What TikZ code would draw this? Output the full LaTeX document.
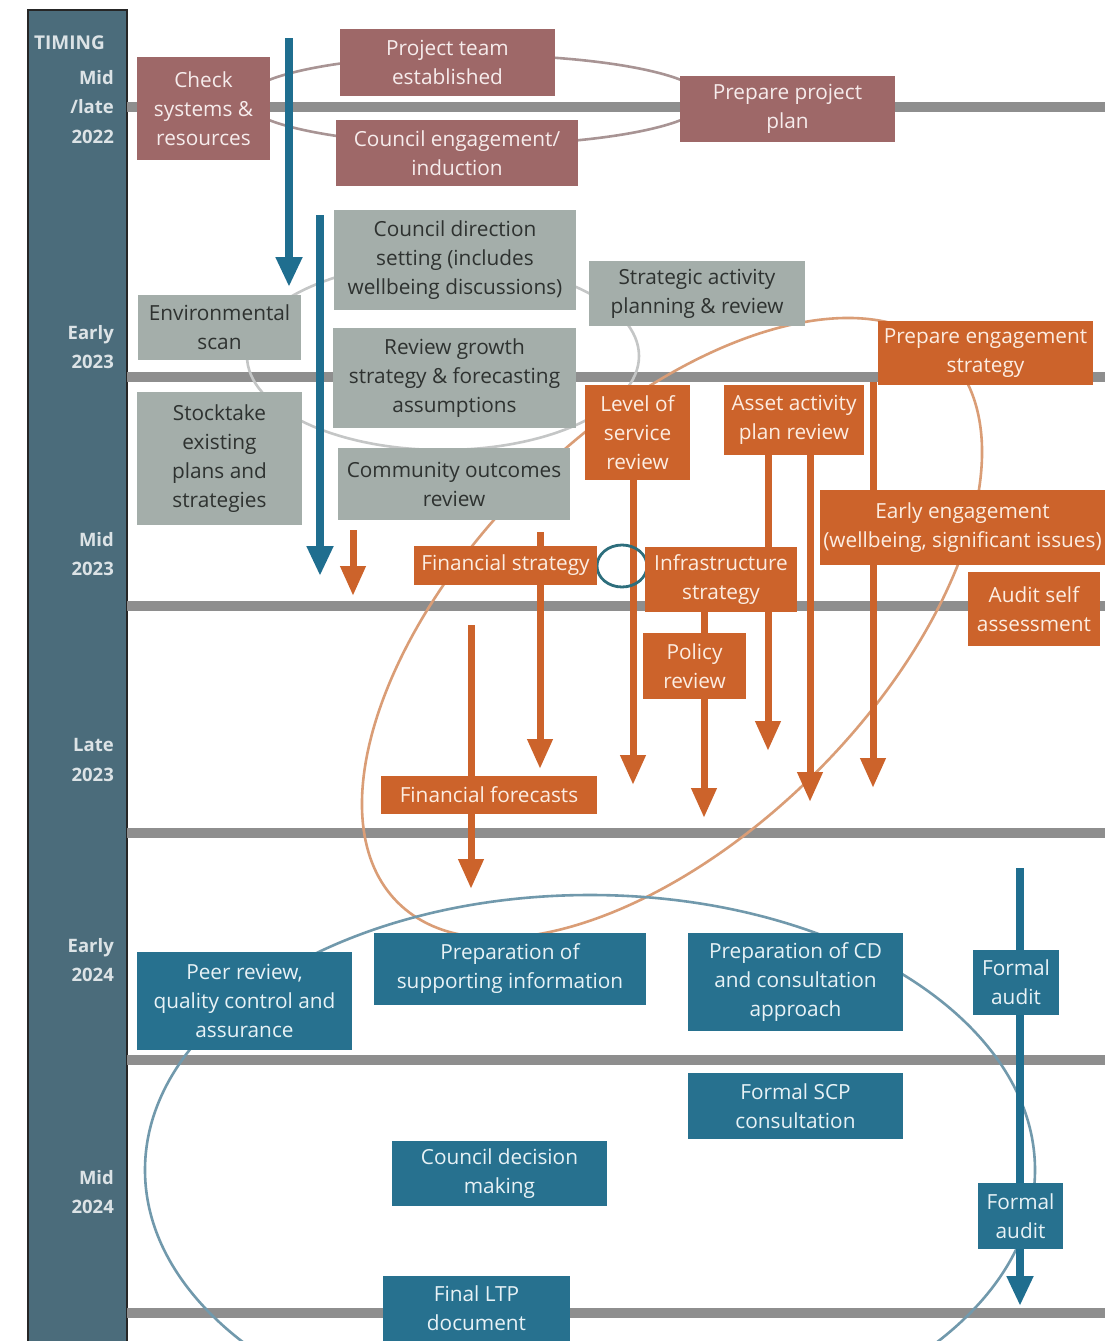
\documentclass[tikz,border=0pt]{standalone}
\usepackage{fontspec}
\setmainfont{Open Sans}
\usetikzlibrary{arrows.meta}
\definecolor{cBar}{HTML}{4B6C7B}
\definecolor{cBarT}{HTML}{DCE3E6}
\definecolor{cLine}{HTML}{8E8E8E}
\definecolor{cMauve}{HTML}{9E6868}
\definecolor{cMauveT}{HTML}{F6ECEC}
\definecolor{cMauveE}{HTML}{A89494}
\definecolor{cGrey}{HTML}{A4AEAA}
\definecolor{cGreyT}{HTML}{2E3230}
\definecolor{cGreyE}{HTML}{C4C6C6}
\definecolor{cOr}{HTML}{CC632B}
\definecolor{cOrT}{HTML}{FCEDE2}
\definecolor{cOrE}{HTML}{DA9D76}
\definecolor{cBl}{HTML}{27718F}
\definecolor{cBlT}{HTML}{E8F2F6}
\definecolor{cBlA}{HTML}{1F6E8F}
\definecolor{cBlE}{HTML}{7199AC}
\definecolor{cTeal}{HTML}{2D6E7C}
\newcommand\bx[7]{\node[#1, minimum width={(#5-#3)*1pt}, minimum height={(#6-#4)*1pt}] (#2) at ({(#3+#5)/2},{(#4+#6)/2}) {#7};}
\begin{document}
\begin{tikzpicture}[x=1pt,y=-1pt,
  boxfont/.style={font=\fontsize{20.8}{29}\selectfont},
  box/.style={rectangle, inner sep=0pt, align=center, boxfont},
  mauvebox/.style={box, fill=cMauve, text=cMauveT},
  greybox/.style={box, fill=cGrey, text=cGreyT},
  orbox/.style={box, fill=cOr, text=cOrT},
  blbox/.style={box, fill=cBl, text=cBlT},
  tlabel/.style={anchor=east, align=right, text=cBarT, font=\bfseries\fontsize{18.5}{29.5}\selectfont, inner sep=0pt},
  gline/.style={draw=cLine, line width=10pt},
  barrow/.style={draw=cBlA, line width=7.5pt, -{Triangle[width=25pt,length=30pt]}},
  orarrow/.style={draw=cOr, line width=7pt, -{Triangle[width=24pt,length=30pt]}},
  ring/.style={line width=2.6pt}
]
\useasboundingbox (0,0) rectangle (1105,1341);
\clip (0,0) rectangle (1105,1341);
\fill[white] (0,0) rectangle (1105,1341);

% timing bar
\path[fill=cBar, draw=black!85, line width=1.5pt] (28,10) rectangle (127,1350);
\node[anchor=west, text=cBarT, font=\bfseries\fontsize{19}{24}\selectfont, inner sep=0pt] (timing) at (34,43) {TIMING};
\node[tlabel] (t1) at (114,107) {Mid\\/late\\2022};
\node[tlabel] (t2) at (114,347) {Early\\2023};
\node[tlabel] (t3) at (114,554) {Mid\\2023};
\node[tlabel] (t4) at (114,760) {Late\\2023};
\node[tlabel] (t5) at (114,960) {Early\\2024};
\node[tlabel] (t6) at (114,1192) {Mid\\2024};

% horizontal period lines
\foreach \yy in {107,377,606,833,1060,1313} {\draw[gline] (127,\yy) -- (1105,\yy);}

% grouping ellipses
\draw[ring, draw=cMauveE] (475,100) ellipse [x radius=230pt, y radius=45pt];
\draw[ring, draw=cGreyE] (443,356) ellipse [x radius=196pt, y radius=94pt];
\draw[ring, draw=cOrE, rotate around={45:(672,628)}] (672,628) ellipse [x radius=388pt, y radius=204pt];
\draw[ring, draw=cBlE] (590,1170) ellipse [x radius=445pt, y radius=275pt];

% arrow coordinates
\coordinate (ba1s) at (289,38);  \coordinate (ba1e) at (289,287);
\coordinate (ba2s) at (320,215); \coordinate (ba2e) at (320,576);
\coordinate (ba3s) at (1020,868); \coordinate (ba3e) at (1020,1306);
\coordinate (oa1s) at (353,530); \coordinate (oa1e) at (353,596);
\coordinate (oa2s) at (540,532); \coordinate (oa2e) at (540,769);
\coordinate (oa3s) at (471,625); \coordinate (oa3e) at (471,889);
\coordinate (oa4s) at (633,470); \coordinate (oa4e) at (633,785);
\coordinate (oa5s) at (704,605); \coordinate (oa5e) at (704,818);
\coordinate (oa6s) at (768,450); \coordinate (oa6e) at (768,751);
\coordinate (oa7s) at (810,450); \coordinate (oa7e) at (810,802);
\coordinate (oa8s) at (873,382); \coordinate (oa8e) at (873,788);

% arrows (behind boxes)
\draw[barrow] (ba1s) -- (ba1e);
\draw[barrow] (ba2s) -- (ba2e);
\draw[barrow] (ba3s) -- (ba3e);
\draw[orarrow] (oa1s) -- (oa1e);
\draw[orarrow] (oa2s) -- (oa2e);
\draw[orarrow] (oa3s) -- (oa3e);
\draw[orarrow] (oa4s) -- (oa4e);
\draw[orarrow] (oa5s) -- (oa5e);
\draw[orarrow] (oa6s) -- (oa6e);
\draw[orarrow] (oa7s) -- (oa7e);
\draw[orarrow] (oa8s) -- (oa8e);

% small teal ring between the strategies
\draw[draw=cTeal, line width=2.8pt] (622,566) ellipse [x radius=25pt, y radius=21pt];

% mauve boxes
\bx{mauvebox}{check}{137}{57}{270}{160}{Check\\systems \&\\resources}
\bx{mauvebox}{team}{340}{29}{555}{96}{Project team\\established}
\bx{mauvebox}{induct}{336}{120}{578}{186}{Council engagement/\\induction}
\bx{mauvebox}{plan}{680}{76}{895}{142}{Prepare project\\plan}

% grey boxes
\bx{greybox}{env}{138}{295}{301}{360}{Environmental\\scan}
\bx{greybox}{stock}{137}{392}{302}{525}{Stocktake\\existing\\plans and\\strategies}
\bx{greybox}{direction}{334}{210}{576}{310}{Council direction\\setting (includes\\wellbeing discussions)}
\bx{greybox}{growth}{333}{328}{576}{428}{Review growth\\strategy \& forecasting\\assumptions}
\bx{greybox}{outcomes}{338}{448}{570}{520}{Community outcomes\\review}
\bx{greybox}{strategic}{589}{261}{805}{326}{Strategic activity\\planning \& review}

% orange boxes
\bx{orbox}{engage}{878}{321}{1093}{385}{Prepare engagement\\strategy}
\bx{orbox}{los}{585}{385}{690}{480}{Level of\\service\\review}
\bx{orbox}{asset}{724}{385}{864}{455}{Asset activity\\plan review}
\bx{orbox}{early}{820}{490}{1105}{565}{Early engagement\\(wellbeing, significant issues)}
\bx{orbox}{auditself}{968}{572}{1100}{646}{Audit self\\assessment}
\bx{orbox}{finstrat}{414}{546}{597}{585}{Financial strategy}
\bx{orbox}{infra}{645}{547}{797}{612}{Infrastructure\\strategy}
\bx{orbox}{policy}{643}{633}{746}{699}{Policy\\review}
\bx{orbox}{forecasts}{381}{776}{597}{814}{Financial forecasts}

% blue boxes
\bx{blbox}{peer}{137}{952}{352}{1050}{Peer review,\\quality control and\\assurance}
\bx{blbox}{supp}{374}{933}{646}{1005}{Preparation of\\supporting information}
\bx{blbox}{cd}{688}{933}{903}{1031}{Preparation of CD\\and consultation\\approach}
\bx{blbox}{audita}{973}{950}{1059}{1015}{Formal\\audit}
\bx{blbox}{scp}{688}{1073}{903}{1139}{Formal SCP\\consultation}
\bx{blbox}{decision}{392}{1141}{607}{1206}{Council decision\\making}
\bx{blbox}{auditb}{978}{1183}{1063}{1249}{Formal\\audit}
\bx{blbox}{final}{383}{1276}{570}{1341}{Final LTP\\document}
\end{tikzpicture}
\end{document}
